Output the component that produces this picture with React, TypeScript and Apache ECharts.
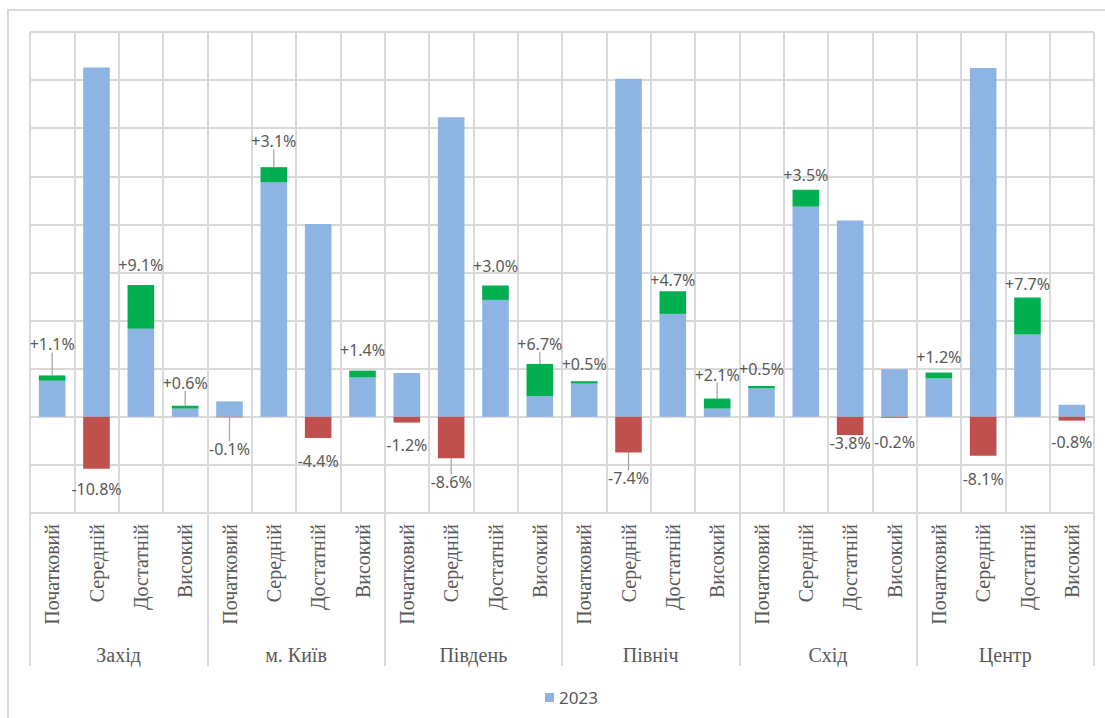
import React, { useEffect, useRef } from 'react';
import * as echarts from 'echarts';

const groups = ['Захід', 'м. Київ', 'Південь', 'Північ', 'Схід', 'Центр'];
const levels = ['Початковий', 'Середній', 'Достатній', 'Високий'];

// 2023 shares, %
const value2023 = [
  7.5, 72.6, 18.3, 1.7,
  3.2, 48.8, 40.1, 8.2,
  9.1, 62.3, 24.3, 4.3,
  6.9, 70.3, 21.4, 1.7,
  5.9, 43.7, 40.8, 9.9,
  8.0, 72.5, 17.1, 2.5,
];

// change, percentage points
const change = [
  1.1, -10.8, 9.1, 0.6,
  -0.1, 3.1, -4.4, 1.4,
  -1.2, -8.6, 3.0, 6.7,
  0.5, -7.4, 4.7, 2.1,
  0.5, 3.5, -3.8, -0.2,
  1.2, -8.1, 7.7, -0.8,
];

// label placement (distance in px from bar end to label centre) and leader lines
const labelLift = [
  31, 20, 20, 23,
  32, 26, 23, 21,
  22, 24, 19, 20,
  17, 26, 11, 24,
  17, 15, 8, 24,
  16, 23, 14, 21,
];
const leader = [
  1, 0, 0, 1,
  1, 1, 0, 0,
  0, 1, 0, 1,
  0, 1, 0, 1,
  0, 0, 0, 0,
  0, 0, 0, 0,
];

const categories = groups.flatMap(() => levels);

export default function App() {
  const ref = useRef<HTMLDivElement>(null);
  useEffect(() => {
    const chart = echarts.init(ref.current as HTMLDivElement, null, { renderer: 'svg' });
    const grid = '#d9d9d9';
    const textColor = '#595959';
    const fmt = (p: any) => {
      const v = Number(p.value);
      return (v > 0 ? '+' : '') + v.toFixed(1) + '%';
    };
    const layout = (params: any) => {
      const r = params.rect;
      const i = params.dataIndex;
      const up = change[i] > 0;
      return {
        x: r.x + r.width / 2,
        y: up ? r.y - labelLift[i] : r.y + r.height + labelLift[i],
        align: 'center',
        verticalAlign: 'middle',
      };
    };
    const changeData = (positive: boolean) =>
      change.map((v, i) =>
        (positive ? v > 0 : v < 0) ? { value: v, labelLine: { show: !!leader[i] } } : '-'
      );
    const changeLabel = {
      show: true,
      formatter: fmt,
      color: textColor,
      fontFamily: 'Noto Sans',
      fontSize: 16,
    };
    const changeLine = { show: false, lineStyle: { color: '#a6a6a6', width: 1.3 } };

    chart.setOption({
      animation: false,
      backgroundColor: '#ffffff',
      graphic: [
        {
          type: 'rect',
          shape: { x: 8, y: 10, width: 1110, height: 730 },
          style: { fill: 'none', stroke: grid, lineWidth: 2 },
          silent: true,
          z: -1,
        },
      ],
      legend: {
        data: ['2023'],
        top: 684,
        left: 540,
        icon: 'rect',
        itemWidth: 9,
        itemHeight: 9,
        itemGap: 6,
        textStyle: { color: textColor, fontFamily: 'Noto Sans', fontSize: 17 },
      },
      grid: { left: 30, right: 11, top: 32, bottom: 205, containLabel: false },
      xAxis: [
        {
          type: 'category',
          data: categories,
          boundaryGap: true,
          axisLine: { show: false, onZero: false },
          axisTick: { show: false },
          splitLine: { show: true, interval: 0, lineStyle: { color: grid, width: 2 } },
          axisLabel: {
            interval: 0,
            rotate: 90,
            margin: 11,
            color: textColor,
            fontFamily: 'Liberation Serif',
            fontSize: 20,
          },
        },
        {
          type: 'category',
          data: groups,
          boundaryGap: true,
          position: 'bottom',
          axisLine: { show: false, onZero: false },
          axisTick: { show: true, interval: 0, length: 153, lineStyle: { color: grid, width: 2 } },
          splitLine: { show: false },
          axisLabel: {
            interval: 0,
            margin: 132,
            color: textColor,
            fontFamily: 'Liberation Serif',
            fontSize: 20,
          },
        },
      ],
      yAxis: {
        type: 'value',
        min: -20,
        max: 80,
        interval: 10,
        axisLabel: { show: false },
        axisLine: { show: false },
        axisTick: { show: false },
        splitLine: { show: true, lineStyle: { color: grid, width: 2 } },
      },
      series: [
        {
          name: '2023',
          type: 'bar',
          stack: 'a',
          xAxisIndex: 0,
          barWidth: '60%',
          data: value2023,
          itemStyle: { color: '#8eb4e3' },
        },
        {
          name: 'gain',
          type: 'bar',
          stack: 'a',
          xAxisIndex: 0,
          barWidth: '60%',
          data: changeData(true),
          itemStyle: { color: '#00b050' },
          label: changeLabel,
          labelLine: changeLine,
          labelLayout: layout,
        },
        {
          name: 'loss',
          type: 'bar',
          stack: 'a',
          xAxisIndex: 0,
          barWidth: '60%',
          data: changeData(false),
          itemStyle: { color: '#c0504d' },
          label: changeLabel,
          labelLine: changeLine,
          labelLayout: layout,
        },
      ],
    });
    return () => chart.dispose();
  }, []);
  return (
    <div
      ref={ref}
      style={{ position: 'absolute', left: 0, top: 0, width: 1105, height: 718 }}
    />
  );
}
